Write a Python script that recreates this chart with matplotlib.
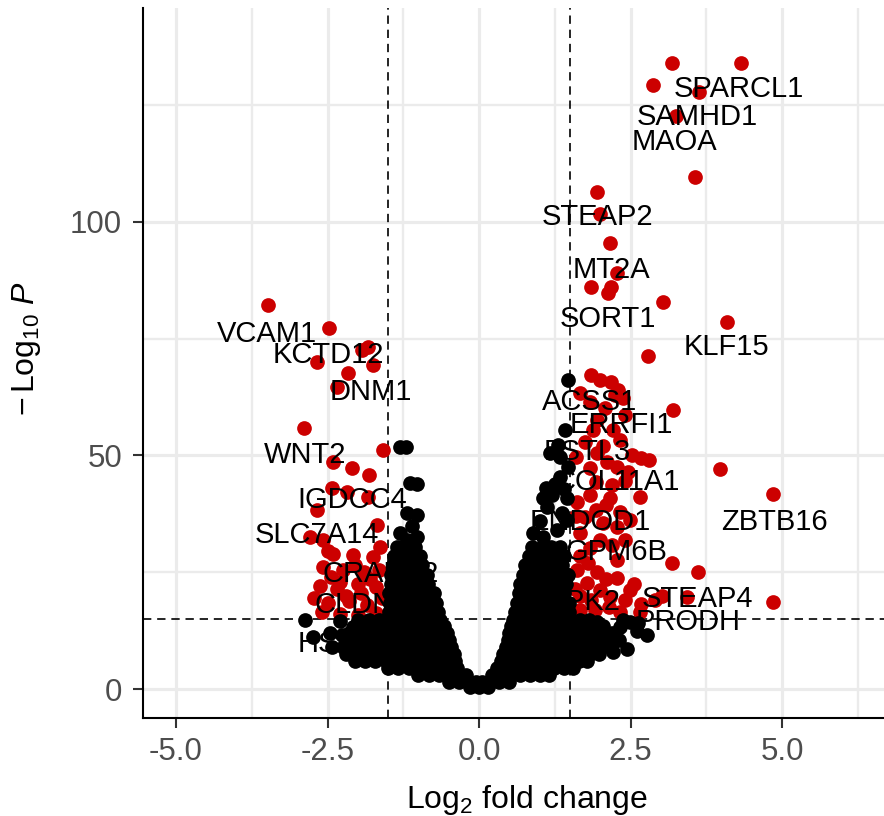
import numpy as np
import matplotlib.pyplot as plt

plt.rcParams['font.family'] = ['Liberation Sans', 'DejaVu Sans']
plt.rcParams['mathtext.fontset'] = 'custom'
plt.rcParams['mathtext.rm'] = 'Liberation Sans'
plt.rcParams['mathtext.it'] = 'Liberation Sans:italic'

# thresholds used for the dashed cut-off lines
fc_cut = 1.5
p_cut = 15

# significant, up-regulated genes (log2 FC, -log10 P)
up_fc = [3.18, 4.32, 2.87, 3.63, 3.25, 3.56, 1.95, 2.0, 2.16, 2.28, 1.85, 2.18, 2.13,
         3.04, 4.09, 2.79,
         1.85, 2.0, 2.18, 2.29, 1.67, 1.83, 2.38, 3.2, 2.08, 2.41, 1.95, 2.25,
         1.88, 2.21, 1.75, 2.05, 2.33, 2.52, 2.67, 2.81, 2.11, 1.83, 2.28, 1.6, 2.46, 3.98,
         1.95, 2.4,
         2.66, 1.83, 2.16, 1.93, 2.19, 2.05, 2.28, 1.67, 1.93, 2.33, 1.75, 4.85, 1.62, 2.0, 2.49,
         1.83, 2.19, 1.67, 2.4, 1.6, 2.1,
         3.18, 3.61, 2.28, 1.95, 1.62, 2.28, 1.78, 2.0, 1.67, 2.16, 2.41, 2.67, 2.9, 3.02,
         3.43, 4.85, 1.91, 2.33, 2.66, 2.49, 1.67, 2.1, 1.8, 2.55, 2.15, 1.58, 1.85]
up_p = [134.0, 134.0, 129.3, 127.8, 122.7, 109.6, 106.4, 101.7, 95.5, 89.1, 86.1, 86.1, 84.8,
        82.9, 78.6, 71.3,
        67.2, 66.2, 65.7, 64.0, 63.4, 61.5, 62.3, 59.7, 60.2, 58.7, 57.5, 63.0,
        55.5, 55.5, 52.9, 52.0, 53.3, 50.1, 49.5, 49.0, 48.6, 47.3, 47.5, 49.7, 46.5, 47.1,
        50.5, 44.5,
        41.1, 41.5, 40.9, 44.3, 43.7, 35.5, 34.7, 33.4, 38.3, 37.9, 36.8, 41.8, 40.0, 31.9, 36.2,
        30.2, 30.8, 28.5, 32.0, 37.0, 39.5,
        27.0, 25.1, 27.6, 25.1, 25.5, 23.8, 22.7, 21.2, 19.9, 19.7, 19.1, 18.2, 19.1, 19.9,
        19.7, 18.6, 16.9, 16.5, 16.5, 21.2, 16.9, 23.5, 27.0, 22.5, 17.5, 21.5, 19.0]

# significant, down-regulated genes
down_fc = [-3.48, -2.48, -1.83, -1.93, -1.75, -2.67, -2.16, -2.34, -2.89, -1.58, -2.41, -2.10,
           -1.82, -2.43, -2.18, -1.83, -2.67, -1.68, -2.79, -2.57, -1.63,
           -2.41, -2.08, -1.75, -2.57, -2.25, -1.9, -2.62, -2.35, -2.0, -1.7, -2.5, -2.15,
           -1.85, -1.6, -2.6, -2.3, -2.0, -1.7, -2.45, -1.65, -2.2, -2.72,
           -2.3, -1.95, -2.5, -1.8, -2.05]
down_p = [82.2, 77.3, 73.2, 72.5, 69.4, 70.0, 67.7, 64.7, 55.9, 51.2, 48.6, 47.3,
          45.8, 43.0, 42.2, 41.1, 38.3, 35.1, 32.5, 31.9, 30.4,
          28.9, 28.7, 28.3, 26.1, 25.5, 25.0, 22.0, 21.5, 22.5, 21.8, 18.5, 18.8,
          18.0, 19.5, 16.5, 16.0, 15.8, 16.2, 24.0, 25.5, 20.0, 19.5,
          23.0, 20.5, 29.5, 23.5, 26.5]

# non-significant genes, read off row by row (-log10 P: log2 FC values)
ns_left_rows = {
    0.5: [-0.15, 0.0],
    1.5: [-0.5, -0.33, -0.18, -0.05],
    3.0: [-1.0, -0.83, -0.66, -0.5, -0.35, -0.22],
    4.5: [-1.5, -1.33, -1.16, -1.0, -0.84, -0.68, -0.52, -0.36],
    6.0: [-2.05, -1.88, -1.71, -1.54, -1.37, -1.2, -1.03, -0.86, -0.7, -0.55, -0.4],
    7.5: [-2.2, -2.03, -1.86, -1.69, -1.52, -1.35, -1.18, -1.01, -0.84, -0.68, -0.53, -0.42],
    9.0: [-2.25, -2.08, -1.91, -1.74, -1.57, -1.4, -1.23, -1.06, -0.89, -0.72, -0.57, -0.46],
    10.5: [-2.2, -2.03, -1.86, -1.69, -1.52, -1.35, -1.18, -1.01, -0.84, -0.68, -0.5],
    12.0: [-2.15, -1.98, -1.81, -1.64, -1.47, -1.3, -1.13, -0.96, -0.79, -0.64, -0.53],
    13.5: [-2.05, -1.88, -1.71, -1.54, -1.37, -1.2, -1.03, -0.86, -0.71, -0.58],
    14.8: [-2.0, -1.82, -1.65, -1.48, -1.31, -1.14, -0.97, -0.8, -0.65],
    16.5: [-1.48, -1.32, -1.16, -1.0, -0.84, -0.68],
    18.5: [-1.47, -1.31, -1.15, -0.99, -0.84, -0.71],
    20.5: [-1.48, -1.32, -1.16, -1.0, -0.86, -0.74],
    22.5: [-1.46, -1.3, -1.14, -0.98, -0.84],
    24.5: [-1.45, -1.29, -1.13, -0.97, -0.86],
    26.5: [-1.42, -1.26, -1.1, -0.95],
    28.5: [-1.4, -1.24, -1.08, -0.97],
    30.5: [-1.35, -1.2, -1.05],
}
ns_right_rows = {
    0.5: [0.15],
    1.5: [0.05, 0.18, 0.33, 0.5],
    3.0: [0.22, 0.36, 0.52, 0.68, 0.84, 1.0, 1.15],
    4.5: [0.3, 0.45, 0.6, 0.76, 0.92, 1.08, 1.24, 1.4, 1.55],
    6.0: [0.36, 0.52, 0.68, 0.84, 1.0, 1.16, 1.32, 1.48, 1.64, 1.78],
    7.5: [0.4, 0.55, 0.71, 0.87, 1.03, 1.19, 1.35, 1.51, 1.67, 1.83, 1.98],
    9.0: [0.44, 0.58, 0.74, 0.9, 1.06, 1.22, 1.38, 1.54, 1.7, 1.86, 2.02, 2.18],
    10.5: [0.47, 0.62, 0.78, 0.94, 1.1, 1.26, 1.42, 1.58, 1.74, 1.9, 2.06, 2.2],
    12.0: [0.5, 0.65, 0.81, 0.97, 1.13, 1.29, 1.45, 1.61, 1.77, 1.93, 2.08],
    13.5: [0.53, 0.68, 0.84, 1.0, 1.16, 1.32, 1.48, 1.64, 1.8, 1.96],
    14.8: [0.56, 0.72, 0.88, 1.04, 1.2, 1.36, 1.5, 1.66, 1.82],
    16.5: [0.6, 0.75, 0.9, 1.05, 1.2, 1.35, 1.48],
    18.5: [0.62, 0.77, 0.92, 1.07, 1.22, 1.37, 1.48],
    20.5: [0.65, 0.8, 0.95, 1.1, 1.25, 1.4],
    22.5: [0.68, 0.83, 0.98, 1.13, 1.28, 1.43],
    24.5: [0.72, 0.87, 1.02, 1.17, 1.32, 1.46],
    26.5: [0.76, 0.91, 1.06, 1.21, 1.36],
    28.5: [0.82, 0.97, 1.12, 1.27, 1.4],
    30.5: [0.88, 1.03, 1.18, 1.33],
}
# scattered non-significant genes outside the dense core
ns_extra_fc = [-1.19, -1.02, -1.3, -1.1, -1.19, -1.02, -1.14, -1.02, -1.3, -1.2,
               1.47, 1.42, 1.30, 1.17, 1.47, 1.34, 1.2, 1.45, 1.12, 1.37, 1.45, 0.89, 1.29,
               1.06, 1.1, 1.25, 1.4, 1.0, 1.06, 1.34,
               -2.87, -2.74, -2.43, -2.26, -2.46, -2.3, -2.08,
               2.62, 2.77, 2.44, 2.21, 2.38, 2.49, 2.33, 2.2, 2.05, 2.6, 2.3, 1.95]
ns_extra_p = [31.9, 32.5, 33.5, 35.0, 37.7, 37.3, 44.1, 43.9, 51.8, 51.8,
              66.2, 55.5, 52.2, 50.5, 47.5, 45.4, 41.5, 40.9, 39.0, 37.7, 36.2, 33.4, 34.0,
              32.5, 43.0, 44.0, 42.8, 36.0, 41.0, 49.7,
              14.8, 11.1, 9.0, 11.6, 12.0, 14.6, 13.3,
              14.1, 11.6, 8.6, 7.9, 14.8, 14.3, 13.3, 12.0, 13.6, 12.5, 10.5, 14.3]

# gene labels: name, x, y (baseline), alignment
lab_names = ['SPARCL1', 'SAMHD1', 'MAOA', 'STEAP2', 'MT2A', 'SORT1', 'KLF15', 'ACSS1',
             'ERRFI1', 'FSTL3', 'COL11A1', 'ENDOD1', 'GPM6B', 'RIPK2', 'STEAP4', 'PRODH',
             'ZBTB16', 'VCAM1', 'KCTD12', 'DNM1', 'WNT2', 'IGDCC4', 'SLC7A14', 'CRABP2',
             'CLDN11', 'HSD11B2']
lab_x = [4.29, 3.60, 3.23, 1.95, 2.18, 2.13, 4.08, 1.83, 2.35, 1.78, 2.28, 1.83, 2.26, 2.33,
         3.60, 3.45, 4.87, -3.50, -2.48, -1.78, -2.87, -2.10, -2.67, -1.62, -2.71, -2.99]
lab_y = [126.8, 120.8, 115.4, 99.4, 88.0, 77.5, 71.5, 59.7, 54.8, 49.0, 42.6, 34.0, 27.6, 16.9,
         17.6, 12.6, 34.0, 74.3, 69.8, 61.9, 48.4, 38.8, 31.3, 22.9, 16.3, 7.9]
lab_ha = ['center'] * 13 + ['right'] + ['center'] * 10 + ['left', 'left']

ns_fc, ns_p = [], []
for rows in (ns_left_rows, ns_right_rows):
    for yv, xs in rows.items():
        ns_fc += xs
        ns_p += [yv] * len(xs)
ns_fc += ns_extra_fc
ns_p += ns_extra_p

fig = plt.figure(figsize=(8.84, 8.16), dpi=100)
ax = fig.add_axes([143 / 884, 1 - 718 / 816, (884 - 143) / 884, (718 - 8) / 816])

ax.set_xlim(-5.545, 6.68)
ax.set_ylim(-6.2, 145.8)

xt = [-5.0, -2.5, 0.0, 2.5, 5.0]
yt = [0, 50, 100]
ax.set_xticks(xt, ['%.1f' % v for v in xt])
ax.set_yticks(yt, [str(v) for v in yt])
ax.set_xticks([-3.75, -1.25, 1.25, 3.75, 6.25], minor=True)
ax.set_yticks([25, 75, 125], minor=True)
ax.grid(True, which='major', color='#ebebeb', lw=2.3, zorder=0)
ax.grid(True, which='minor', color='#ebebeb', lw=1.7, zorder=0)
ax.set_axisbelow(True)
ax.tick_params(which='minor', length=0)
ax.tick_params(which='major', length=7, width=1.5, color='#333333',
               labelsize=22.5, labelcolor='#4d4d4d')
ax.tick_params(axis='x', pad=7)
ax.tick_params(axis='y', pad=8)

for s in ['top', 'right']:
    ax.spines[s].set_visible(False)
for s in ['left', 'bottom']:
    ax.spines[s].set_linewidth(1.5)
    ax.spines[s].set_color('black')

ax.axvline(-fc_cut, color='black', lw=1.2, ls=(0, (5, 3.5)), zorder=1)
ax.axvline(fc_cut, color='black', lw=1.2, ls=(0, (5, 3.5)), zorder=1)
ax.axhline(p_cut, color='black', lw=1.2, ls=(0, (5, 3.5)), zorder=1)

ax.scatter(up_fc, up_p, s=112, c='#cc0000', lw=0, zorder=2)
ax.scatter(down_fc, down_p, s=112, c='#cc0000', lw=0, zorder=2)

for name, x, y, ha in zip(lab_names, lab_x, lab_y, lab_ha):
    ax.text(x, y, name, ha=ha, va='baseline', fontsize=21, color='black', zorder=3)

ax.scatter(ns_fc, ns_p, s=112, c='black', lw=0, zorder=4)

ax.set_xlabel(r'$\mathrm{Log}_{2}$ fold change', fontsize=23)
ax.set_ylabel(r'$-\,\mathrm{Log}_{10}\ \mathit{P}$', fontsize=23)
ax.xaxis.set_label_coords(0.518, -0.092)
ax.yaxis.set_label_coords(-0.135, 0.52)

fig.savefig('out.png', dpi=100)
